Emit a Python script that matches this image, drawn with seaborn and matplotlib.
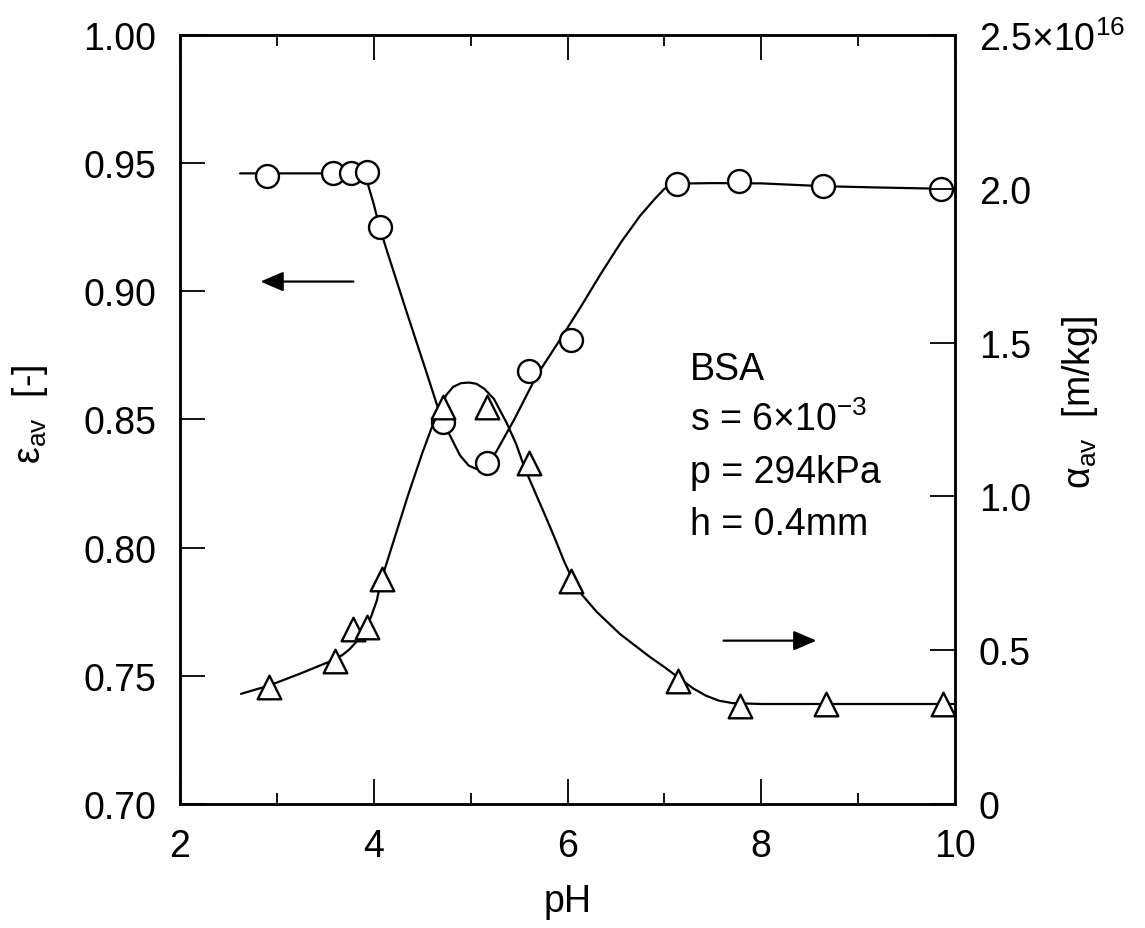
import matplotlib

matplotlib.use('Agg')
import matplotlib.pyplot as plt
from matplotlib.ticker import MultipleLocator, FixedLocator, FixedFormatter, FormatStrFormatter
import seaborn as sns

sns.set_style('ticks')
plt.rcParams['font.family'] = ['Liberation Sans', 'DejaVu Sans']
plt.rcParams['mathtext.fontset'] = 'custom'
plt.rcParams['mathtext.rm'] = 'Liberation Sans'
plt.rcParams['mathtext.it'] = 'Liberation Sans:italic'
plt.rcParams['text.color'] = 'black'
plt.rcParams['axes.labelcolor'] = 'black'
plt.rcParams['xtick.color'] = 'black'
plt.rcParams['ytick.color'] = 'black'

# measured points
eps_ph = [2.90, 3.58, 3.77, 3.93, 4.06, 4.71, 5.17, 5.60, 6.04, 7.13, 7.77, 8.64, 9.86]
eps_val = [0.945, 0.946, 0.946, 0.9467, 0.925, 0.849, 0.833, 0.869, 0.881, 0.942, 0.943, 0.941, 0.940]

alpha_ph = [2.92, 3.60, 3.79, 3.93, 4.08, 4.71, 5.17, 5.60, 6.04, 7.14, 7.78, 8.67, 9.88]
alpha_val = [0.38, 0.466, 0.569, 0.575, 0.73, 1.29, 1.29, 1.11, 0.726, 0.40, 0.32, 0.325, 0.325]  # x1e16 m/kg

# smooth guide curves
eps_curve_ph = [2.62, 3.0, 3.5, 3.85, 3.93, 4.00, 4.06, 4.13, 4.33, 4.53, 4.71, 4.77, 4.89, 4.98,
                5.06, 5.17, 5.27, 5.45, 5.68, 5.92, 6.13, 6.33, 6.55, 6.75, 6.90, 7.00, 7.10,
                7.50, 8.00, 8.64, 9.20, 9.86, 10.0]
eps_curve = [0.946, 0.946, 0.946, 0.946, 0.943, 0.934, 0.925, 0.9165, 0.893, 0.870, 0.849, 0.845,
             0.836, 0.832, 0.8307, 0.832, 0.8378, 0.850, 0.867, 0.881, 0.8935, 0.906, 0.919,
             0.9295, 0.936, 0.940, 0.942, 0.9422, 0.9421, 0.941, 0.9405, 0.940, 0.940]

alpha_curve_ph = [2.63, 2.92, 3.25, 3.60, 3.68, 3.75, 3.82, 3.89, 3.97, 4.03, 4.08, 4.20, 4.35,
                  4.50, 4.60, 4.68, 4.75, 4.82, 4.90, 4.98, 5.06, 5.14, 5.24, 5.37, 5.47, 5.56,
                  5.67, 5.78, 5.88, 5.97, 6.04, 6.15, 6.30, 6.54, 6.85, 7.00, 7.14, 7.30, 7.43,
                  7.56, 7.70, 8.0, 8.67, 9.3, 10.0]
alpha_curve = [0.358, 0.385, 0.425, 0.470, 0.485, 0.503, 0.527, 0.558, 0.607, 0.660, 0.73, 0.85,
               1.00, 1.14, 1.225, 1.285, 1.33, 1.356, 1.368, 1.37, 1.366, 1.35, 1.317, 1.24,
               1.17, 1.09, 1.01, 0.93, 0.855, 0.785, 0.738, 0.68, 0.625, 0.553, 0.478, 0.445,
               0.412, 0.375, 0.352, 0.336, 0.328, 0.325, 0.325, 0.325, 0.325]

alpha_ticks = [0, 0.5, 1.0, 1.5, 2.0, 2.5]
alpha_ticklabels = ['0', '0.5', '1.0', '1.5', '2.0', r'2.5×10$^{\mathregular{16}}$']
info_lines = ['BSA', r's = 6×10$^{\mathregular{-3}}$', 'p = 294kPa', 'h = 0.4mm']

FS = 27
fig = plt.figure(figsize=(11.45, 9.29), dpi=100)
ax = fig.add_axes([0.1572, 0.1335, 0.6769, 0.8278])
ax2 = ax.twinx()

sns.lineplot(x=eps_curve_ph, y=eps_curve, sort=False, color='black', lw=1.6, ax=ax)
sns.scatterplot(x=eps_ph, y=eps_val, marker='o', s=16.5 ** 2, facecolor='white',
                edgecolor='black', linewidth=1.7, zorder=5, ax=ax)

sns.lineplot(x=alpha_curve_ph, y=alpha_curve, sort=False, color='black', lw=1.6, ax=ax2)
sns.scatterplot(x=alpha_ph, y=alpha_val, marker='^', s=17 ** 2, facecolor='white',
                edgecolor='black', linewidth=1.7, zorder=5, ax=ax2)

ax.set_xlim(2, 10)
ax.set_ylim(0.70, 1.00)
ax2.set_ylim(0, 2.5)
ax.xaxis.set_major_locator(MultipleLocator(2))
ax.xaxis.set_minor_locator(MultipleLocator(1))
ax.yaxis.set_major_locator(MultipleLocator(0.05))
ax.yaxis.set_major_formatter(FormatStrFormatter('%.2f'))
ax2.yaxis.set_major_locator(FixedLocator(alpha_ticks))
ax2.yaxis.set_major_formatter(FixedFormatter(alpha_ticklabels))

ax.tick_params(which='both', direction='in', top=True, right=False, width=1.3,
               labelsize=FS, pad=17)
ax.tick_params(which='major', length=18)
ax.tick_params(which='minor', length=8)
ax2.tick_params(which='both', direction='in', length=18, width=1.3, labelsize=FS, pad=17)

for a in (ax, ax2):
    for sp in a.spines.values():
        sp.set_linewidth(1.8)
        sp.set_color('black')
        sp.set_visible(True)

ax.set_xlabel('pH', fontsize=FS, labelpad=14)
ax.set_ylabel(r'ε$_{\mathregular{av}}$  [-]', fontsize=FS)
ax2.set_ylabel(r'α$_{\mathregular{av}}$  [m/kg]', fontsize=FS)
ax.yaxis.set_label_coords(-0.168, 0.508)
ax2.yaxis.set_label_coords(1.1355, 0.524)

for i, line in enumerate(info_lines):
    ax.text(0.658, 0.553 - i * 0.0672, line, transform=ax.transAxes, fontsize=FS,
            ha='left', va='baseline')

arrow = dict(arrowstyle='-|>,head_length=0.7,head_width=0.3', color='black', lw=1.6,
             shrinkA=0, shrinkB=0, mutation_scale=20)
ax.annotate('', xy=(2.83, 0.9038), xytext=(3.79, 0.9038), arrowprops=arrow)
ax2.annotate('', xy=(8.57, 0.531), xytext=(7.61, 0.531), arrowprops=arrow)

fig.savefig('out.png', dpi=100, facecolor='white')
